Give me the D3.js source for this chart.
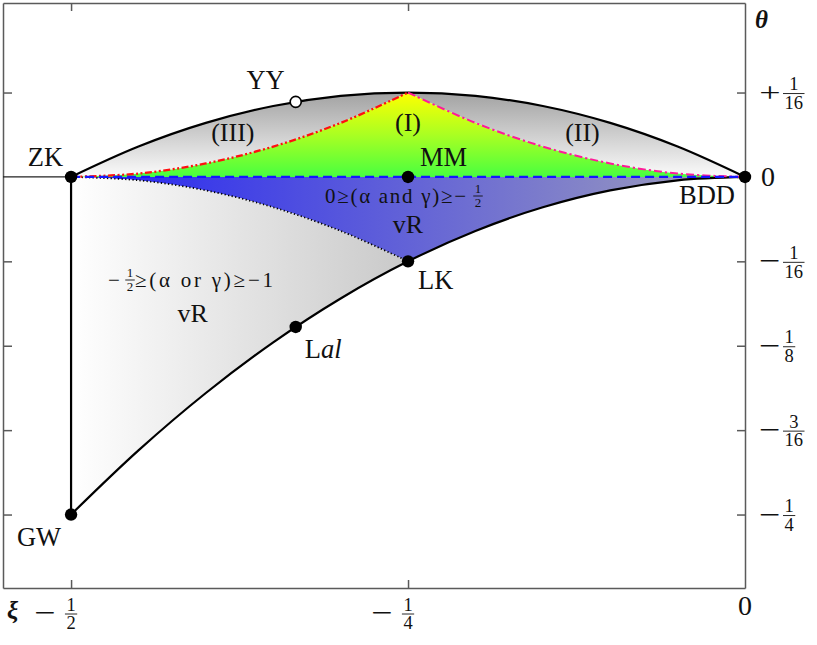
<!DOCTYPE html>
<html><head><meta charset="utf-8">
<script src="https://cdn.jsdelivr.net/npm/d3@7"></script>
<style>
body{margin:0;background:#fff}
svg{display:block}
text{font-family:"Liberation Serif","DejaVu Serif",serif;fill:#111}
</style>
</head><body>
<svg id="c" width="817" height="645"></svg>
<script>
// ---------- data ----------
const xiTicks = [-0.5, -0.25, 0];
const xiTickLabels = ["−1/2", "−1/4", "0"];
const thetaTicks = [1/16, 0, -1/16, -1/8, -3/16, -1/4];
const thetaTickLabels = ["+1/16", "0", "−1/16", "−1/8", "−3/16", "−1/4"];

// upper black boundary ZK -> YY -> top -> BDD
const upperXi    = [-0.5, -0.45, -0.4, -0.35, -0.3, -0.25, -0.2, -0.15, -0.1, -0.05, 0];
const upperTheta = [0, 0.0225, 0.04, 0.0525, 0.06, 0.0625, 0.06, 0.0525, 0.04, 0.0225, 0];
// lower black boundary GW -> Lal -> LK -> BDD
const lowerXi    = [-0.5, -0.45, -0.4, -0.35, -0.3, -0.25, -0.2, -0.15, -0.1, -0.05, 0];
const lowerTheta = [-0.25, -0.2025, -0.16, -0.1225, -0.09, -0.0625, -0.04, -0.0225, -0.01, -0.0025, 0];
// (III) red dash-dot-dot curve ZK -> top
const curveIIIXi    = [-0.5, -0.45, -0.4, -0.35, -0.3, -0.25];
const curveIIITheta = [0, 0.0025, 0.01, 0.0225, 0.04, 0.0625];
// (II) magenta dash-dot curve top -> BDD
const curveIIXi    = [-0.25, -0.2, -0.15, -0.1, -0.05, 0];
const curveIITheta = [0.0625, 0.04, 0.0225, 0.01, 0.0025, 0];
// dotted curve ZK -> LK
const dottedXi    = [-0.5, -0.45, -0.4, -0.35, -0.3, -0.25];
const dottedTheta = [0, -0.0025, -0.01, -0.0225, -0.04, -0.0625];
// blue dashed line ZK -> BDD
const dashedXi    = [-0.5, 0];
const dashedTheta = [0, 0];
// vertical ZK -> GW
const wallXi    = [-0.5, -0.5];
const wallTheta = [0, -0.25];

// labelled points
const pointNames = ["ZK", "GW", "MM", "LK", "BDD", "Lal", "YY"];
const pointXi    = [-0.5, -0.5, -0.25, -0.25, 0, -1/3, -1/3];
const pointTheta = [0, -0.25, 0, -0.0625, 0, -1/9, 1/18];
const pointOpen  = [false, false, false, false, false, false, true];

// ---------- setup ----------
const svg = d3.select("#c");
const x = d3.scaleLinear().domain([-0.5505, 0]).range([3, 745]);
const y = d3.scaleLinear().domain([-0.3044, 0.1288]).range([588, 3]);
const zip = (a, b) => a.map((v, i) => [v, b[i]]);
const line = d3.line().x(d => x(d[0])).y(d => y(d[1])).curve(d3.curveCatmullRom.alpha(0.5));
const seg = (pts, first) => { const s = line(pts); return first ? s : s.replace(/^M/, "L"); };

const upper = zip(upperXi, upperTheta);
const lower = zip(lowerXi, lowerTheta);
const c3 = zip(curveIIIXi, curveIIITheta);
const c2 = zip(curveIIXi, curveIITheta);
const dotted = zip(dottedXi, dottedTheta);
const dashed = zip(dashedXi, dashedTheta);
const wall = zip(wallXi, wallTheta);
const rev = a => a.slice().reverse();
const lowerLeft = lower.filter(d => d[0] <= -0.25);
const lowerRight = lower.filter(d => d[0] >= -0.25);

// ---------- gradients ----------
const defs = svg.append("defs");
function grad(id, x1, y1, x2, y2, stops) {
  const g = defs.append("linearGradient").attr("id", id).attr("gradientUnits", "userSpaceOnUse")
    .attr("x1", x1).attr("y1", y1).attr("x2", x2).attr("y2", y2);
  stops.forEach(s => g.append("stop").attr("offset", s[0]).attr("stop-color", s[1]));
}
grad("gUp", 0, y(1/16), 0, y(0), [[0, "#a2a2a2"], [1, "#fbfbfb"]]);
grad("gGreen", 0, y(1/16), 0, y(0), [[0, "#ffff00"], [0.5, "#aaff22"], [1, "#48ff40"]]);
grad("gBlue", x(-0.5), 0, x(0), 0, [[0, "#2323f4"], [1, "#a2a2ba"]]);
grad("gLow", x(-0.5), 0, x(-0.25), 0, [[0, "#ffffff"], [1, "#c9c9c9"]]);

// ---------- regions ----------
svg.append("path").attr("d", seg(upper, true) + seg(rev(c2)) + seg(rev(c3)) + "Z").attr("fill", "url(#gUp)");
svg.append("path").attr("d", seg(c3, true) + seg(c2) + seg(rev(dashed)) + "Z").attr("fill", "url(#gGreen)");
svg.append("path").attr("d", seg(dashed, true) + seg(rev(lowerRight)) + seg(rev(dotted)) + "Z").attr("fill", "url(#gBlue)");
svg.append("path").attr("d", seg(wall, true) + seg(lowerLeft) + seg(rev(dotted)) + "Z").attr("fill", "url(#gLow)");

// ---------- frame / axes ----------
const axCol = "#5a5a5a";
function styleAxis(g) {
  g.selectAll("path,line").attr("stroke", axCol).attr("stroke-width", 1.5);
  g.selectAll("text").remove();
}
svg.append("g").attr("transform", `translate(${x(0)},0)`)
  .call(d3.axisLeft(y).tickValues(thetaTicks).tickSize(8).tickSizeOuter(0).tickFormat("")).call(styleAxis);
svg.append("g").attr("transform", `translate(3,0)`)
  .call(d3.axisRight(y).tickValues(thetaTicks.filter(t => t !== 0)).tickSize(9).tickSizeOuter(0).tickFormat("")).call(styleAxis);
svg.append("g").attr("transform", `translate(0,588)`)
  .call(d3.axisTop(x).tickValues(xiTicks.filter(t => t !== 0)).tickSize(8).tickSizeOuter(0).tickFormat("")).call(styleAxis);
svg.append("g").attr("transform", `translate(0,3)`)
  .call(d3.axisBottom(x).tickValues(xiTicks.filter(t => t !== 0)).tickSize(8).tickSizeOuter(0).tickFormat("")).call(styleAxis);

// theta = 0 thin line from the left frame to ZK
svg.append("line").attr("x1", 3).attr("x2", x(-0.5)).attr("y1", y(0)).attr("y2", y(0))
  .attr("stroke", "#222").attr("stroke-width", 1.3);

// ---------- curves ----------
const stroke = (d, col, w, dash) => svg.append("path").attr("d", d).attr("fill", "none")
  .attr("stroke", col).attr("stroke-width", w).attr("stroke-dasharray", dash || null);
stroke(seg(upper, true), "#000", 2.2);
stroke(seg(lower, true), "#000", 2.2);
stroke(seg(wall, true), "#000", 2.2);
stroke(seg(dotted, true), "#000", 1.7, "1.3,2.3");
stroke(seg(c3, true), "#ff1010", 2.3, "7,2.5,2,2.5,2,2.5");
stroke(seg(c2, true), "#ff1a9a", 2, "8,3,2.2,3");
stroke(seg(dashed, true), "#1515ff", 2.3, "9,5");

// ---------- points ----------
const pts = pointNames.map((n, i) => ({ n, xi: pointXi[i], th: pointTheta[i], open: pointOpen[i] }));
svg.selectAll("circle.pt").data(pts).enter().append("circle")
  .attr("cx", d => x(d.xi)).attr("cy", d => y(d.th))
  .attr("r", d => d.open ? 5.5 : 6.2)
  .attr("fill", d => d.open ? "#fff" : "#000")
  .attr("stroke", "#000").attr("stroke-width", d => d.open ? 1.6 : 0);

// ---------- point labels ----------
const fsBig = 26.5;
const lab = { ZK: [-8, -11, "end"], GW: [-10, 31, "end"], MM: [12, -11, "start"], LK: [10, 28, "start"],
              BDD: [-10, 27, "end"], Lal: [9, 31, "start"], YY: [-11, -13, "end"] };
pts.forEach(p => {
  const o = lab[p.n];
  const t = svg.append("text").attr("x", x(p.xi) + o[0]).attr("y", y(p.th) + o[1])
    .attr("text-anchor", o[2]).attr("font-size", fsBig);
  if (p.n === "Lal") {
    t.append("tspan").text("L");
    t.append("tspan").attr("font-style", "italic").text("al");
  } else t.text(p.n);
});

// ---------- fraction helper ----------
function frac(cx, bar, num, den, fs) {
  svg.append("text").attr("x", cx).attr("y", bar - 3.5).attr("text-anchor", "middle").attr("font-size", fs).text(num);
  svg.append("text").attr("x", cx).attr("y", bar + fs * 0.72 + 2).attr("text-anchor", "middle").attr("font-size", fs).text(den);
  const w = den.length * fs * 0.5 + 3;
  svg.append("line").attr("x1", cx - w / 2).attr("x2", cx + w / 2).attr("y1", bar).attr("y2", bar)
    .attr("stroke", "#111").attr("stroke-width", 0.9);
}
function parseLab(s) {
  const m = s.match(/^([+−]?)(\d+)(?:\/(\d+))?$/);
  return { sign: m[1], num: m[2], den: m[3] };
}
function sign(cx, base, s) {
  svg.append("text").attr("transform", `translate(${cx},${base}) scale(1.35,1)`)
    .attr("text-anchor", "middle").attr("font-size", 28).text(s);
}

// right (theta) labels
thetaTicks.forEach((t, i) => {
  const L = parseLab(thetaTickLabels[i]);
  const yy = y(t);
  if (!L.den) {
    svg.append("text").attr("x", 761).attr("y", yy + 9.5).attr("font-size", 28).text(L.num);
    return;
  }
  sign(770, yy + 9, L.sign);
  const fs = 18.5;
  frac(783 + L.den.length * fs * 0.25 + 1.5, yy + 1, L.num, L.den, fs);
});
// bottom (xi) labels
xiTicks.forEach((t, i) => {
  const L = parseLab(xiTickLabels[i]);
  const xx = x(t);
  if (!L.den) {
    svg.append("text").attr("x", xx).attr("y", 615).attr("text-anchor", "middle").attr("font-size", 28).text(L.num);
    return;
  }
  sign(xx - 26, 622, L.sign);
  frac(xx, 614, L.num, L.den, 18.5);
});
// axis titles
svg.append("text").attr("x", 755).attr("y", 28).attr("font-size", 25).attr("font-weight", "bold").attr("font-style", "italic").text("θ");
svg.append("text").attr("x", 7).attr("y", 619).attr("font-size", 25).attr("font-weight", "bold").attr("font-style", "italic").text("ξ");

// ---------- region labels ----------
const regionLab = (xi, th, txt, fs) => svg.append("text").attr("x", x(xi)).attr("y", y(th))
  .attr("text-anchor", "middle").attr("font-size", fs).text(txt);
regionLab(-0.25, 0.034, "(I)", 26);
regionLab(-0.380, 0.0265, "(III)", 26);
regionLab(-0.1206, 0.0265, "(II)", 26);
regionLab(-0.25, -0.0415, "vR", 26);
regionLab(-0.4098, -0.1074, "vR", 26);

// condition labels with small fractions
function txt(x0, base, s, fs, width) {
  const t = svg.append("text").attr("x", x0).attr("y", base).attr("font-size", fs).text(s);
  if (width) t.attr("textLength", width).attr("lengthAdjust", "spacing");
}
// 0 ≥ (α and γ) ≥ −1/2
txt(325, 203, "0≥(α and γ)≥−", 21, 141);
frac(478, 196, "1", "2", 13);
// −1/2 ≥ (α or γ) ≥ −1
txt(108, 287, "−", 21);
frac(130, 280, "1", "2", 13);
txt(135, 287, "≥(α or γ)≥−1", 21, 138);
</script>
</body></html>
